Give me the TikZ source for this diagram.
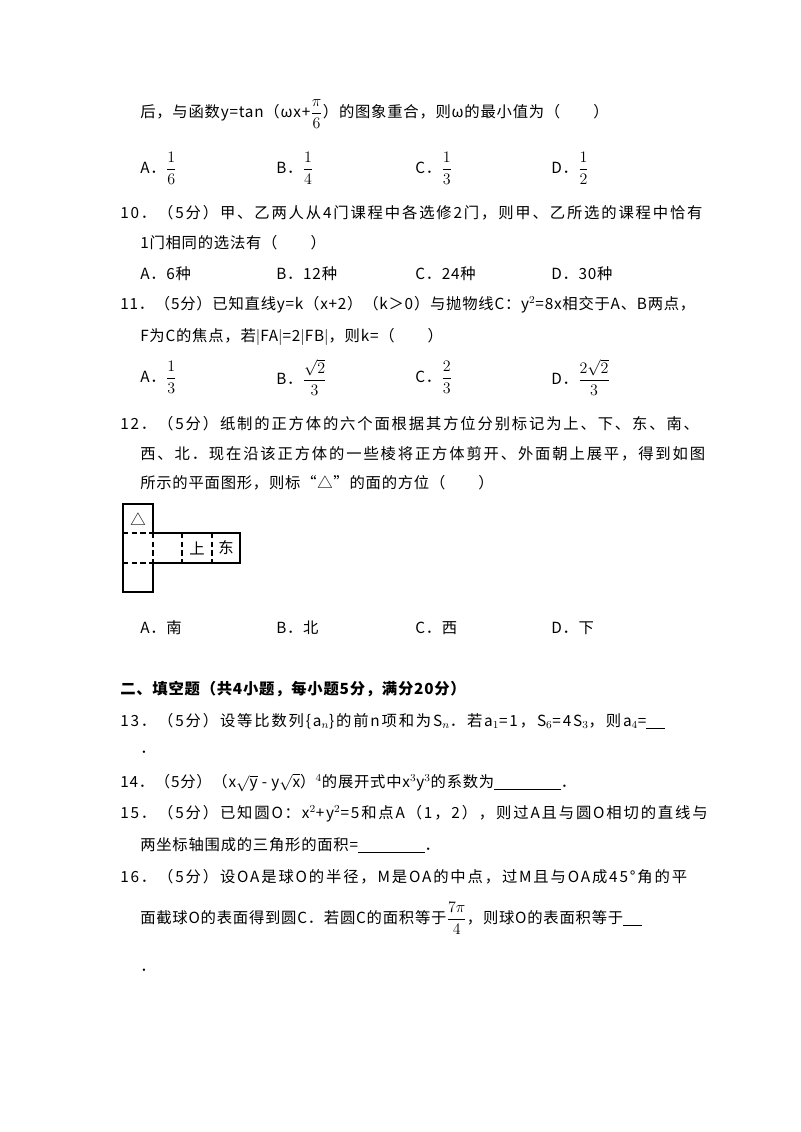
\documentclass[tikz,border=0pt]{standalone}
\usepackage{fontspec}
\setmainfont{Noto Sans CJK SC}[LetterSpace=5]
\newfontfamily\wide[LetterSpace=12]{Noto Sans CJK SC}
\newcommand\fr[2]{$\displaystyle\frac{#1}{#2}$}
\begin{document}
\begin{tikzpicture}[x=0.75pt,y=-0.75pt,
  t/.style={anchor=west,inner sep=0pt,font=\fontsize{11.5pt}{13pt}\selectfont},
  fig/.style={line width=0.9pt},
  dsh/.style={line width=0.9pt,dash pattern=on 4pt off 2.5pt}]
\useasboundingbox[fill=white] (0,0) rectangle (800,1132);
\node[t] (l1) at (140,114) {后，与函数y=tan（ωx+\fr{\pi}{6}）的图象重合，则ω的最小值为（　　）};
\node[t] (a9) at (140,168) {A．\fr{1}{6}};
\node[t] (b9) at (276,168) {B．\fr{1}{4}};
\node[t] (c9) at (415,168) {C．\fr{1}{3}};
\node[t] (d9) at (551,168) {D．\fr{1}{2}};
\node[t] (q10) at (120,213) {\wide 10．（5分）甲、乙两人从4门课程中各选修2门，则甲、乙所选的课程中恰有};
\node[t] (q10b) at (140,243) {1门相同的选法有（　　）};
\node[t] (a10) at (140,274) {A．6种};
\node[t] (b10) at (276,274) {B．12种};
\node[t] (c10) at (415,274) {C．24种};
\node[t] (d10) at (551,274) {D．30种};
\node[t] (q11) at (120,305) {11．（5分）已知直线y=k（x+2）（k＞0）与抛物线C：y$^2$=8x相交于A、B两点，};
\node[t] (q11b) at (140,337) {F为C的焦点，若$|$FA$|$=2$|$FB$|$，则k=（　　）};
\node[t] (a11) at (140,377) {A．\fr{1}{3}};
\node[t] (b11) at (276,377) {B．\fr{\sqrt{2}}{3}};
\node[t] (c11) at (415,377) {C．\fr{2}{3}};
\node[t] (d11) at (551,377) {D．\fr{2\sqrt{2}}{3}};
\node[t] (q12) at (120,424) {\wide 12．（5分）纸制的正方体的六个面根据其方位分别标记为上、下、东、南、};
\node[t] (q12b) at (140,454) {\wide 西、北．现在沿该正方体的一些棱将正方体剪开、外面朝上展平，得到如图};
\node[t] (q12c) at (140,483) {所示的平面图形，则标“△”的面的方位（　　）};
% figure
\draw[fig] (153,533) -- (153,504) -- (123,504) -- (123,592) -- (153,592) -- (153,563) -- (240,563) -- (240,533) -- (153,533);
\draw[dsh] (123,533) -- (153,533);
\draw[dsh] (123,563) -- (153,563);
\draw[dsh] (153,533) -- (153,563);
\draw[dsh] (182,533) -- (182,563);
\draw[dsh] (212,533) -- (212,563);
\node[t,anchor=center] (tri) at (138,519) {△};
\node[t,anchor=center] (up) at (197,548) {上};
\node[t,anchor=center] (east) at (226,548) {东};
\node[t] (a12) at (140,628) {A．南};
\node[t] (b12) at (276,628) {B．北};
\node[t] (c12) at (415,628) {C．西};
\node[t] (d12) at (551,628) {D．下};
\node[t,font=\fontsize{11.5pt}{13pt}\selectfont\bfseries] (sec) at (120,689) {二、填空题（共4小题，每小题5分，满分20分）};
\node[t] (q13) at (120,721) {\wide 13．（5分）设等比数列\{a$_n$\}的前n项和为S$_n$．若a$_1$=1，S$_6$=4S$_3$，则a$_4$=\underline{\hspace{14pt}}};
\node[t] (q13b) at (140,752) {．};
\node[t] (q14) at (120,783) {14．（5分）（x$\sqrt{\mathrm{y}}$ - y$\sqrt{\mathrm{x}}$）$^4$的展开式中x$^3$y$^3$的系数为\underline{\hspace{50pt}}．};
\node[t] (q15) at (120,814) {\wide 15．（5分）已知圆O：x$^2$+y$^2$=5和点A（1，2），则过A且与圆O相切的直线与};
\node[t] (q15b) at (140,845) {两坐标轴围成的三角形的面积=\underline{\hspace{50pt}}．};
\node[t] (q16) at (120,877) {\wide 16．（5分）设OA是球O的半径，M是OA的中点，过M且与OA成45°角的平};
\node[t] (q16b) at (140,918) {面截球O的表面得到圆C．若圆C的面积等于\fr{7\pi}{4}，则球O的表面积等于\underline{\hspace{14pt}}};
\node[t] (q16c) at (140,970) {．};
\end{tikzpicture}
\end{document}
